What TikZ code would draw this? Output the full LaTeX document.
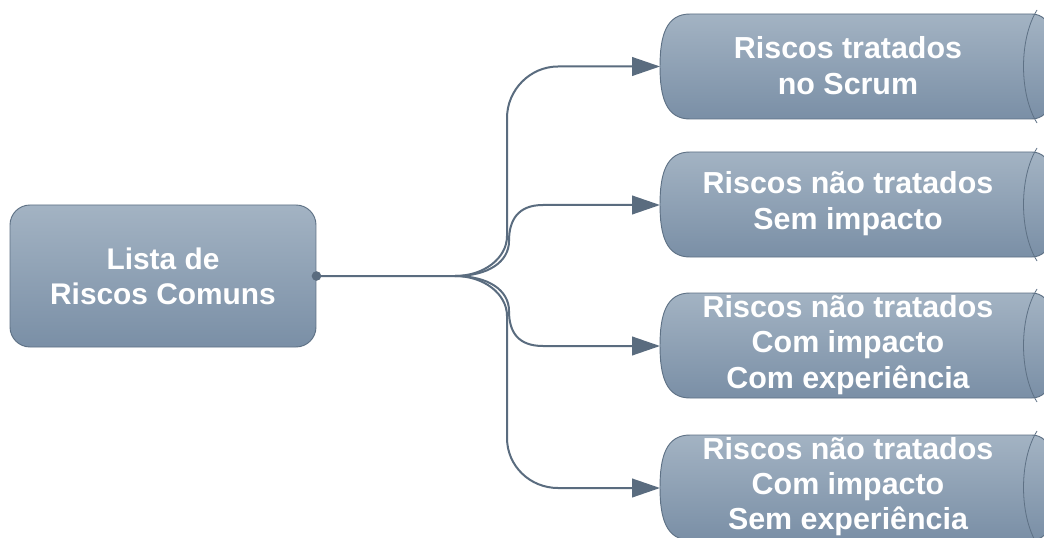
\documentclass[tikz,border=0pt]{standalone}
\usepackage{fontspec}
\setmainfont{Liberation Sans}
\usetikzlibrary{arrows.meta}
\definecolor{btop}{HTML}{A3B3C3}
\definecolor{bbot}{HTML}{7A8FA6}
\definecolor{bline}{HTML}{5E7185}
\definecolor{conncol}{HTML}{5A6C7F}
\tikzset{
  boxfill/.style={top color=btop,bottom color=bbot,draw=bline,line width=0.7pt},
  txt/.style={text=white,font=\bfseries\fontsize{22.8pt}{26.5pt}\selectfont,align=center,inner sep=0pt},
  conn/.style={draw=conncol,line width=1.5pt,-{Triangle[length=21pt,width=14pt]}},
  innerarc/.style={draw=bline,line width=0.6pt}
}
\newcommand\rbox[2]{%
  \path[boxfill] (690,#1) -- (1032,#1) .. controls (1042,#1) and (1050,{#1+8}) .. (1050,{#1+18})
    -- (1050,{#2-18}) .. controls (1050,{#2-8}) and (1042,#2) .. (1032,#2)
    -- (690,#2) .. controls (666,#2) and (660,{#2-22}) .. (660,{(#1+#2)/2})
    .. controls (660,{#1+22}) and (666,#1) .. (690,#1) -- cycle;
  \path[innerarc] (1037,{#1-4}) .. controls (1019,{#1+25}) and (1019,{#2-25}) .. (1037,{#2+4});
}
\begin{document}
\begin{tikzpicture}[x=0.75pt,y=-0.75pt]
\useasboundingbox (0,0) rectangle (1044,538);
\clip (0,0) rectangle (1044,538);
\fill[white] (0,0) rectangle (1044,538);
% right boxes
\rbox{14}{119}
\rbox{152}{257}
\rbox{293}{398}
\rbox{435}{540}
\node[txt] (b1) at (848,65.5) {Riscos tratados\\no Scrum};
\node[txt] (b2) at (848,203.5) {Riscos não tratados\\Sem impacto};
\node[txt] (b3) at (848,345) {Riscos não tratados\\Com impacto\\Com experiência};
\node[txt] (b4) at (848,486.5) {Riscos não tratados\\Com impacto\\Sem experiência};
\coordinate (b1w) at (660,66.5);
\coordinate (b2w) at (660,205);
\coordinate (b3w) at (660,346);
\coordinate (b4w) at (660,488);
% left box
\node[boxfill,rounded corners=15pt,minimum width=229.5pt,minimum height=106.5pt,
      text=white,font=\bfseries\fontsize{22.4pt}{26.3pt}\selectfont,align=center]
  (l) at (163,276) {Lista de\\Riscos Comuns};
\coordinate (fork) at (455,276);
% connectors
\draw[conn] (l.east) -- (fork) .. controls (484,276) and (507,258) .. (507,236)
  -- (507,118) .. controls (507,90) and (530,66.5) .. (558,66.5) -- (b1w);
\draw[conn] (fork) .. controls (488,276) and (509,262) .. (509,241)
  .. controls (509,220) and (518,205) .. (543,205) -- (b2w);
\draw[conn] (fork) .. controls (488,276) and (509,290) .. (509,311)
  .. controls (509,332) and (518,346) .. (543,346) -- (b3w);
\draw[conn] (fork) .. controls (484,276) and (507,294) .. (507,316)
  -- (507,438) .. controls (507,466) and (530,488) .. (558,488) -- (b4w);
\fill[conncol] (l.east) circle (3.6pt);
\end{tikzpicture}
\end{document}
